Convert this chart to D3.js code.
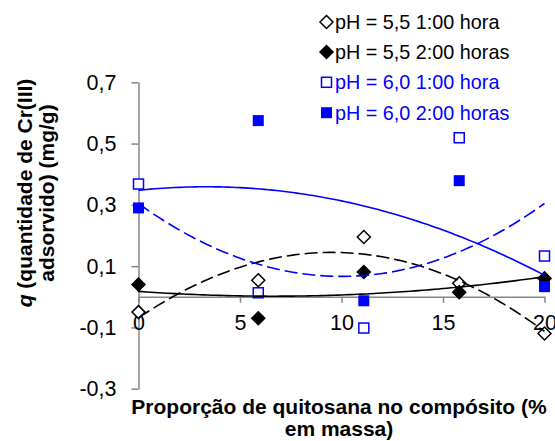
<!DOCTYPE html>
<html>
<head>
<meta charset="utf-8">
<script src="https://cdn.jsdelivr.net/npm/d3@7"></script>
<style>
  body { margin: 0; background: #fff; }
  text { font-family: "Liberation Sans", Arial, sans-serif; }
</style>
</head>
<body>
<div id="chart"></div>
<script>
// chitosan proportion (% mass)
const proportions = [0, 5.9, 11.1, 15.8, 20];

// q values (mg/g)
const ph55_1h = [-0.05, 0.054, 0.195, 0.044, -0.12];
const ph55_2h = [0.040, -0.070, 0.081, 0.015, 0.060];
const ph60_1h = [0.368, 0.013, -0.102, 0.519, 0.133];
const ph60_2h = [0.290, 0.575, -0.013, 0.379, 0.033];

const seriesNames = [
    "pH = 5,5 1:00 hora",
    "pH = 5,5 2:00 horas",
    "pH = 6,0 1:00 hora",
    "pH = 6,0 2:00 horas"
];

const yTicks = [-0.3, -0.1, 0.1, 0.3, 0.5, 0.7];
const xTicks = [0, 5, 10, 15, 20];

const W = 555, H = 441;
const blue = "#0000ff";
const axisColor = "#868686";

const series = [
    { name: seriesNames[0], values: ph55_1h, color: "#000", shape: "diamond", filled: false, dash: "13,5" },
    { name: seriesNames[1], values: ph55_2h, color: "#000", shape: "diamond", filled: true, dash: null },
    { name: seriesNames[2], values: ph60_1h, color: blue, shape: "square", filled: false, dash: "13,5" },
    { name: seriesNames[3], values: ph60_2h, color: blue, shape: "square", filled: true, dash: null }
];

const svg = d3.select("#chart")
    .append("svg")
    .attr("width", W)
    .attr("height", H);

const x = d3.scaleLinear().domain([0, 20]).range([138.5, 544.5]);
const y = d3.scaleLinear().domain([-0.3, 0.7]).range([388.7, 82.3]);

const fmt = d => d3.format(".1f")(d).replace(".", ",").replace("−", "-");

// y axis
const yAxis = svg.append("g")
    .attr("transform", `translate(${x(0)},0)`)
    .call(d3.axisLeft(y).tickValues(yTicks).tickSize(7).tickSizeOuter(0).tickPadding(15).tickFormat(fmt));
yAxis.select(".domain").attr("stroke", axisColor).attr("stroke-width", 1.5);
yAxis.selectAll(".tick line").attr("stroke", axisColor).attr("stroke-width", 1.5);
yAxis.selectAll(".tick text")
    .attr("font-size", 21.5)
    .attr("fill", "#000")
    .style("font-family", "'Liberation Sans', Arial, sans-serif");

// x axis, crossing at q = 0
const xAxis = svg.append("g")
    .attr("transform", `translate(0,${y(0)})`)
    .call(d3.axisBottom(x).tickValues(xTicks).tickSize(6).tickSizeOuter(0).tickPadding(12));
xAxis.select(".domain").attr("stroke", axisColor).attr("stroke-width", 1.5);
xAxis.selectAll(".tick line").attr("stroke", axisColor).attr("stroke-width", 1.5);
xAxis.selectAll(".tick text")
    .attr("font-size", 21.5)
    .attr("fill", "#000")
    .style("font-family", "'Liberation Sans', Arial, sans-serif");

// 2nd order least squares fit (Excel polynomial trendline)
function polyFit2(xs, ys) {
    const n = xs.length;
    let s1 = 0, s2 = 0, s3 = 0, s4 = 0, t0 = 0, t1 = 0, t2 = 0;
    xs.forEach((xv, i) => {
        const yv = ys[i];
        s1 += xv; s2 += xv * xv; s3 += xv ** 3; s4 += xv ** 4;
        t0 += yv; t1 += xv * yv; t2 += xv * xv * yv;
    });
    const A = [[n, s1, s2, t0], [s1, s2, s3, t1], [s2, s3, s4, t2]];
    for (let c = 0; c < 3; c++) {
        for (let r = c + 1; r < 3; r++) {
            const f = A[r][c] / A[c][c];
            for (let k = c; k < 4; k++) A[r][k] -= f * A[c][k];
        }
    }
    const coef = [0, 0, 0];
    for (let r = 2; r >= 0; r--) {
        let s = A[r][3];
        for (let k = r + 1; k < 3; k++) s -= A[r][k] * coef[k];
        coef[r] = s / A[r][r];
    }
    return xv => coef[0] + coef[1] * xv + coef[2] * xv * xv;
}

const line = d3.line().x(d => x(d[0])).y(d => y(d[1])).curve(d3.curveLinear);
const fitX = d3.range(0, 20.001, 0.2);

// markers
function drawMarker(g, shape, cx, cy, color, filled) {
    if (shape === "diamond") {
        const r = 6.5;
        g.append("path")
            .attr("d", `M${cx},${cy - r}L${cx + r},${cy}L${cx},${cy + r}L${cx - r},${cy}Z`)
            .attr("fill", filled ? color : "#fff")
            .attr("stroke", color)
            .attr("stroke-width", 1.5);
    } else {
        const s = filled ? 11 : 10;
        g.append("rect")
            .attr("x", cx - s / 2).attr("y", cy - s / 2)
            .attr("width", s).attr("height", s)
            .attr("fill", filled ? color : "#fff")
            .attr("stroke", color)
            .attr("stroke-width", filled ? 0 : 1.5);
    }
}

const marks = svg.append("g");
series.forEach(s => {
    s.values.forEach((v, i) => drawMarker(marks, s.shape, x(proportions[i]), y(v), s.color, s.filled));
});

// trendlines
series.forEach(s => {
    const f = polyFit2(proportions, s.values);
    svg.append("path")
        .datum(fitX.map(xv => [xv, f(xv)]))
        .attr("d", line)
        .attr("fill", "none")
        .attr("stroke", s.color)
        .attr("stroke-width", 1.6)
        .attr("stroke-dasharray", s.dash);
});

// legend
const legend = svg.append("g");
const legendY = [22, 52, 82.3, 112.7];
series.forEach((s, i) => {
    drawMarker(legend, s.shape, 326.5, legendY[i], s.color, s.filled);
    legend.append("text")
        .attr("x", 335)
        .attr("y", legendY[i] + 7)
        .attr("font-size", 19.8)
        .attr("fill", s.color === blue ? blue : "#000")
        .text(s.name);
});

// axis titles
const xt = svg.append("text")
    .attr("text-anchor", "middle")
    .attr("font-weight", "bold")
    .attr("font-size", 21);
xt.append("tspan").attr("x", 339).attr("y", 413.5).text("Proporção de quitosana no compósito (%");
xt.append("tspan").attr("x", 339).attr("y", 436).text("em massa)");

const yt = svg.append("text")
    .attr("transform", "translate(0,193) rotate(-90)")
    .attr("text-anchor", "middle")
    .attr("font-weight", "bold")
    .attr("font-size", 21);
const l1 = yt.append("tspan").attr("x", 0).attr("y", 31.5);
l1.append("tspan").attr("font-style", "italic").text("q");
l1.append("tspan").text(" (quantidade de Cr(III)");
yt.append("tspan").attr("x", 0).attr("y", 54).text("adsorvido) (mg/g)");
</script>
</body>
</html>
